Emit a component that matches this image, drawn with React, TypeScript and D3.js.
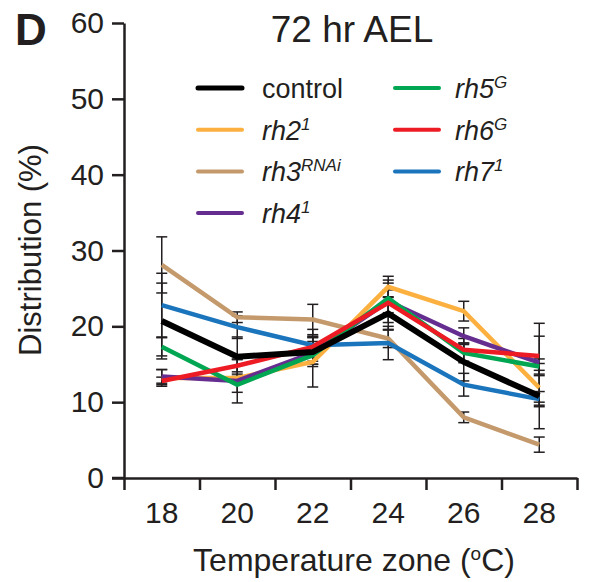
import React, { useEffect, useRef } from 'react';
import * as d3 from 'd3';

// temperature zones (x)
const zones = [18, 20, 22, 24, 26, 28];
const yTicks = [0, 10, 20, 30, 40, 50, 60];

// mean distribution (%) per zone
const control = [20.7, 16.0, 16.6, 21.7, 15.3, 10.8];
const rh2 = [13.2, 13.2, 15.3, 25.2, 22.0, 11.9];
const rh3 = [28.1, 21.2, 20.9, 18.4, 8.0, 4.4];
const rh4 = [13.4, 12.8, 16.5, 23.3, 18.7, 15.2];
const rh5 = [17.3, 12.3, 16.2, 23.7, 16.5, 14.7];
const rh6 = [12.8, 14.8, 17.3, 23.1, 16.9, 16.1];
const rh7 = [22.8, 19.9, 17.5, 17.8, 12.3, 10.4];

// s.e.m. per zone
const controlErr = [5.0, 2.6, 1.9, 2.2, 2.5, 4.3];
const rh2Err = [1.1, 0.5, 3.3, 1.4, 1.3, 2.3];
const rh3Err = [3.7, 0.7, 2.0, 1.2, 0.7, 1.0];
const rh4Err = [0.9, 2.9, 1.5, 1.5, 1.1, 5.2];
const rh5Err = [1.2, 1.0, 1.2, 2.4, 1.3, 1.0];
const rh6Err = [0.5, 0.8, 1.4, 2.6, 1.5, 2.6];
const rh7Err = [4.2, 1.5, 2.1, 2.2, 1.5, 1.0];

const series = [
  { name: 'rh2', sup: '1', color: '#FBB040', values: rh2, err: rh2Err, width: 4.5 },
  { name: 'rh3', sup: 'RNAi', color: '#C49A6C', values: rh3, err: rh3Err, width: 4.5 },
  { name: 'rh7', sup: '1', color: '#1B75BC', values: rh7, err: rh7Err, width: 4.5 },
  { name: 'rh4', sup: '1', color: '#662D91', values: rh4, err: rh4Err, width: 4.5 },
  { name: 'rh5', sup: 'G', color: '#00A651', values: rh5, err: rh5Err, width: 4.5 },
  { name: 'rh6', sup: 'G', color: '#ED1C24', values: rh6, err: rh6Err, width: 4.5 },
  { name: 'control', sup: '', color: '#000000', values: control, err: controlErr, width: 6 },
];

// legend order: column 1 then column 2
const legendCol1 = ['control', 'rh2', 'rh3', 'rh4'];
const legendCol2 = ['rh5', 'rh6', 'rh7'];

const ink = '#231F20';
const font = '"Liberation Sans", Arial, Helvetica, sans-serif';

const Chart = () => {
  const svgRef = useRef<SVGSVGElement>(null);

  useEffect(() => {
    const width = 589;
    const height = 582;
    const left = 124, right = 577, top = 23, bottom = 478;

    const x = d3.scaleLinear().domain([17, 29]).range([left, right]);
    const y = d3.scaleLinear().domain([0, 60]).range([bottom, top]);

    const svg = d3.select(svgRef.current)
      .attr('width', width)
      .attr('height', height);

    svg.selectAll('*').remove();

    // axes
    const yAxis = svg.append('g')
      .attr('transform', 'translate(' + left + ',0)')
      .call(d3.axisLeft(y).tickValues(yTicks).tickSize(12).tickPadding(8).tickSizeOuter(0));
    const xAxis = svg.append('g')
      .attr('transform', 'translate(0,' + bottom + ')')
      .call(d3.axisBottom(x).tickValues(d3.range(17, 30, 2)).tickSize(12).tickFormat(() => '').tickSizeOuter(0));

    [yAxis, xAxis].forEach(a => {
      a.select('.domain').attr('stroke', ink).attr('stroke-width', 2.5);
      a.selectAll('.tick line').attr('stroke', ink).attr('stroke-width', 2.5);
    });
    yAxis.selectAll('.tick text')
      .attr('fill', ink)
      .style('font-family', font)
      .style('font-size', '30px');
    // x tick labels at zone centres
    svg.append('g')
      .selectAll('text')
      .data(zones)
      .join('text')
      .attr('x', d => x(d))
      .attr('y', 523)
      .attr('text-anchor', 'middle')
      .attr('fill', ink)
      .style('font-family', font)
      .style('font-size', '30px')
      .text(d => d);
    // extend x axis to the left to meet the y ticks
    svg.append('line')
      .attr('x1', left - 12).attr('x2', left)
      .attr('y1', bottom).attr('y2', bottom)
      .attr('stroke', ink).attr('stroke-width', 2.5);

    // error bars
    const eb = svg.append('g').attr('stroke', ink).attr('stroke-width', 1.5);
    series.forEach(s => {
      s.values.forEach((v, i) => {
        const cx = x(zones[i]);
        const y1 = y(v - s.err[i]);
        const y2 = y(v + s.err[i]);
        eb.append('line').attr('x1', cx).attr('x2', cx).attr('y1', y1).attr('y2', y2);
        eb.append('line').attr('x1', cx - 5.5).attr('x2', cx + 5.5).attr('y1', y1).attr('y2', y1);
        eb.append('line').attr('x1', cx - 5.5).attr('x2', cx + 5.5).attr('y1', y2).attr('y2', y2);
      });
    });

    // lines
    const line = d3.line<number>()
      .x((d, i) => x(zones[i]))
      .y(d => y(d));
    series.forEach(s => {
      svg.append('path')
        .datum(s.values)
        .attr('fill', 'none')
        .attr('stroke', s.color)
        .attr('stroke-width', s.width)
        .attr('stroke-linejoin', 'miter')
        .attr('d', line);
    });

    // legend
    const legend = svg.append('g');
    const addEntry = (name: string, lx: number, tx: number, ly: number) => {
      const s = series.find(d => d.name === name)!;
      legend.append('line')
        .attr('x1', lx).attr('x2', lx + 44)
        .attr('y1', ly).attr('y2', ly)
        .attr('stroke', s.color)
        .attr('stroke-width', name === 'control' ? 5 : 4)
        .attr('stroke-linecap', 'round');
      const t = legend.append('text')
        .attr('x', tx)
        .attr('y', ly + 10)
        .attr('fill', ink)
        .style('font-family', font)
        .style('font-size', '27px');
      if (s.sup) {
        t.style('font-style', 'italic');
        t.append('tspan').text(s.name);
        t.append('tspan')
          .attr('dy', -10)
          .style('font-size', '17px')
          .text(s.sup);
      } else {
        t.text(s.name);
      }
    };
    legendCol1.forEach((n, i) => addEntry(n, 198, 262, 88 + i * 41.7));
    legendCol2.forEach((n, i) => addEntry(n, 395, 455, 88 + i * 41.7));

    // title, panel letter, axis titles
    svg.append('text')
      .attr('x', 352).attr('y', 42)
      .attr('text-anchor', 'middle')
      .attr('fill', ink)
      .style('font-family', font)
      .style('font-size', '37px')
      .text('72 hr AEL');
    svg.append('text')
      .attr('x', 15).attr('y', 45)
      .attr('fill', ink)
      .style('font-family', font)
      .style('font-size', '44px')
      .style('font-weight', 'bold')
      .text('D');
    const xt = svg.append('text')
      .attr('x', 354).attr('y', 571)
      .attr('text-anchor', 'middle')
      .attr('fill', ink)
      .style('font-family', font)
      .style('font-size', '32px');
    xt.append('tspan').text('Temperature zone (');
    xt.append('tspan').attr('dy', -11).style('font-size', '19px').text('o');
    xt.append('tspan').attr('dy', 11).text('C)');
    svg.append('text')
      .attr('transform', 'translate(41,250) rotate(-90)')
      .attr('text-anchor', 'middle')
      .attr('fill', ink)
      .style('font-family', font)
      .style('font-size', '31px')
      .text('Distribution (%)');
  }, []);

  return <svg ref={svgRef} style={{ position: 'absolute', left: 0, top: 0, display: 'block' }}></svg>;
};

export default function App() {
  return <Chart />;
}
